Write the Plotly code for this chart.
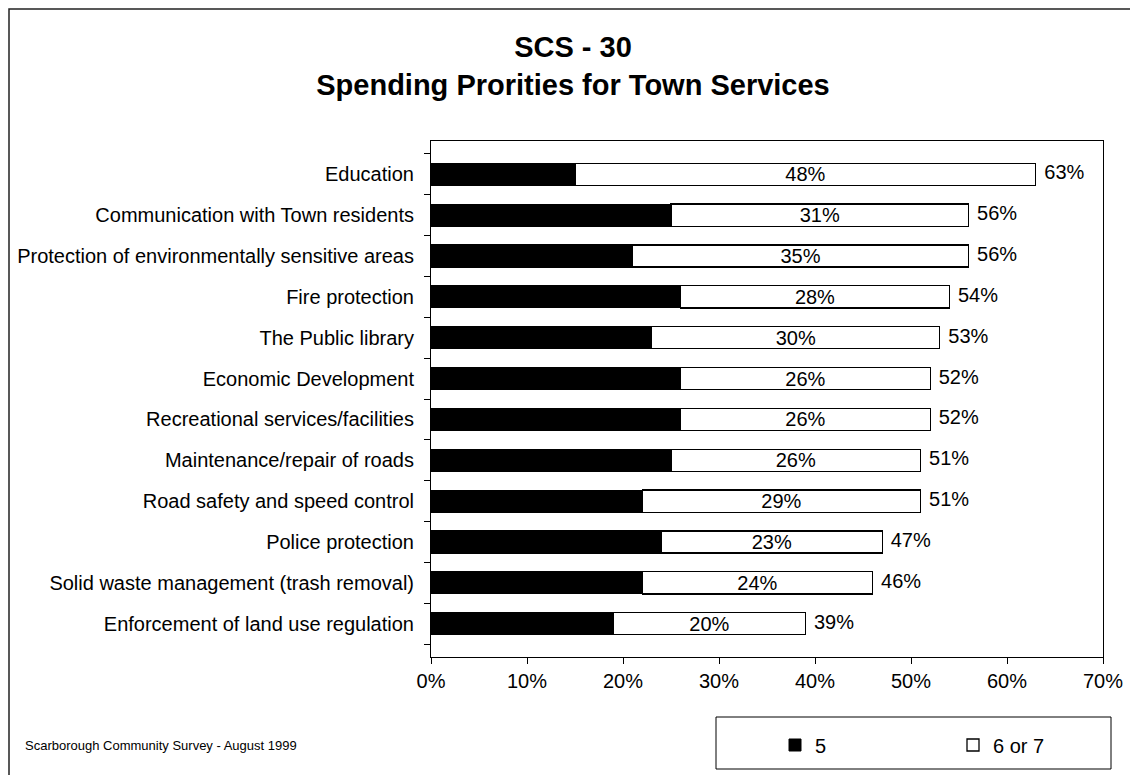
import plotly.graph_objects as go

categories = [
    "Education",
    "Communication with Town residents",
    "Protection of environmentally sensitive areas",
    "Fire protection",
    "The Public library",
    "Economic Development",
    "Recreational services/facilities",
    "Maintenance/repair of roads",
    "Road safety and speed control",
    "Police protection",
    "Solid waste management (trash removal)",
    "Enforcement of land use regulation",
]
val_5 = [15, 25, 21, 26, 23, 26, 26, 25, 22, 24, 22, 19]
val_6or7 = [48, 31, 35, 28, 30, 26, 26, 26, 29, 23, 24, 20]
totals = [63, 56, 56, 54, 53, 52, 52, 51, 51, 47, 46, 39]
x_ticks = [0, 10, 20, 30, 40, 50, 60, 70]
x_tick_labels = [f"{t}%" for t in x_ticks]

FONT = "Liberation Sans, Arial, sans-serif"
# page is drawn with an 8px body margin, so the figure is 8px smaller
W, H = 1130, 767
L, T = 423, 133
PW, PH = 672, 516
R, B = W - L - PW, H - T - PH
OFF = 8  # body margin offset (page px -> figure px)

def px_x(p):  # page px -> paper x
    return (p - OFF - L) / PW

def px_y(p):  # page px -> paper y
    return (H - B - (p - OFF)) / PH

cats = categories[::-1]
fig = go.Figure()
fig.add_trace(go.Bar(
    y=cats, x=val_5[::-1], orientation="h", name="5",
    marker=dict(color="#000000", line=dict(color="#000000", width=1)),
    hoverinfo="x+y",
))
fig.add_trace(go.Bar(
    y=cats, x=val_6or7[::-1], orientation="h", name="6 or 7",
    marker=dict(color="#ffffff", line=dict(color="#000000", width=1.3)),
    text=[f"{v}%" for v in val_6or7[::-1]], textposition="inside",
    insidetextanchor="middle", textangle=0, constraintext="none",
    textfont=dict(color="#000000", size=20, family=FONT),
))
fig.add_trace(go.Scatter(
    y=cats, x=totals[::-1], mode="markers+text",
    marker=dict(size=12, color="rgba(0,0,0,0)"),
    text=[f"{v}%" for v in totals[::-1]], textposition="middle right",
    textfont=dict(color="#000000", size=20, family=FONT),
    showlegend=False, hoverinfo="skip",
))

fig.update_layout(
    width=W, height=H,
    margin=dict(l=L, r=R, t=T, b=B, autoexpand=False),
    barmode="stack", bargap=0.46,
    paper_bgcolor="#ffffff", plot_bgcolor="#ffffff",
    font=dict(family=FONT, color="#000000", size=20),
    title=dict(
        text="<b>SCS - 30<br>Spending Prorities for Town Services</b>",
        x=0.5, xref="container", xanchor="center",
        y=1 - 49 / H, yanchor="middle",
        font=dict(size=29, family=FONT, color="#000000"),
    ),
    xaxis=dict(
        range=[0, 70], tickvals=x_ticks, ticktext=x_tick_labels,
        showgrid=False, zeroline=False,
        showline=True, linecolor="#000000", linewidth=1, mirror=True,
        ticks="outside", ticklen=6, tickcolor="#000000",
        tickfont=dict(size=20, family=FONT),
    ),
    yaxis=dict(
        categoryorder="array", categoryarray=cats,
        showgrid=False, zeroline=False,
        showline=True, linecolor="#000000", linewidth=1, mirror=True,
        ticks="outside", ticklen=6, tickcolor="#000000", tickson="boundaries",
        ticklabelstandoff=12,
        tickfont=dict(size=20, family=FONT),
    ),
    showlegend=True,
    legend=dict(
        orientation="h", x=px_x(775), y=px_y(745), xanchor="left", yanchor="middle",
        entrywidth=133, entrywidthmode="pixels", bgcolor="rgba(0,0,0,0)",
        font=dict(size=20, family=FONT), traceorder="normal",
    ),
    shapes=[
        dict(type="rect", xref="paper", yref="paper",
             x0=px_x(716), x1=px_x(1111), y0=px_y(769), y1=px_y(717),
             line=dict(color="#000000", width=1), fillcolor="rgba(0,0,0,0)"),
        dict(type="rect", xref="paper", yref="paper",
             x0=px_x(OFF + 1), x1=px_x(1180), y0=px_y(820), y1=px_y(OFF + 1),
             line=dict(color="#222222", width=1.5), fillcolor="rgba(0,0,0,0)"),
    ],
    annotations=[
        dict(text="Scarborough Community Survey - August 1999",
             xref="paper", yref="paper", x=px_x(23), y=px_y(745),
             xanchor="left", yanchor="middle", showarrow=False,
             font=dict(size=13, family=FONT, color="#000000")),
    ],
)

fig.write_html("out.html")
